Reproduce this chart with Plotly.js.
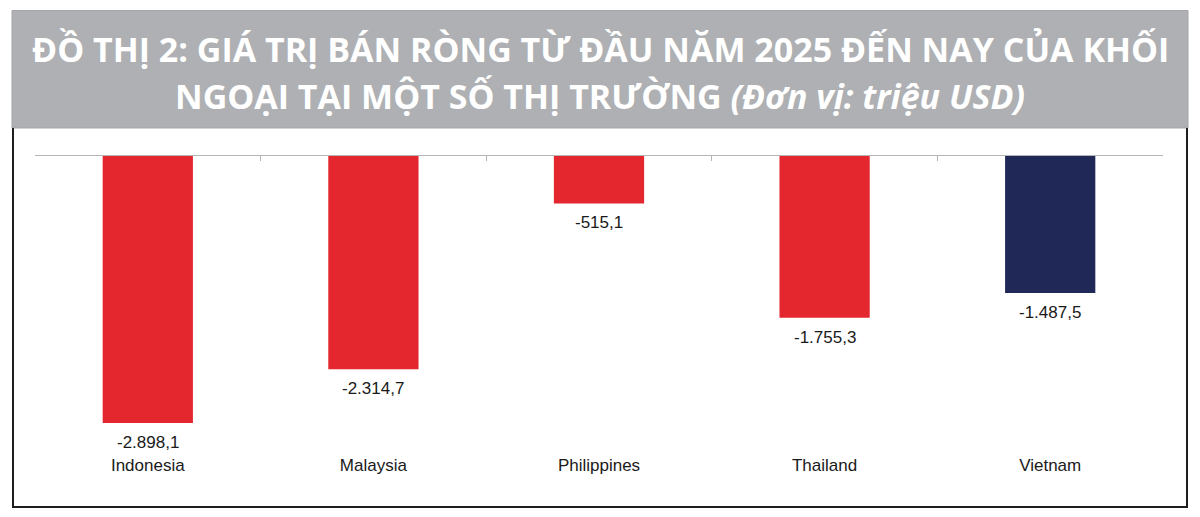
<!DOCTYPE html>
<html>
<head>
<meta charset="utf-8">
<script src="https://cdn.plot.ly/plotly-3.0.1.min.js"></script>
<style>
html,body{margin:0;padding:0;background:#fff;}
#chart{width:1200px;height:517px;}
</style>
</head>
<body>
<div id="chart"></div>
<script>
// ---- data ----
const categories = ["Indonesia", "Malaysia", "Philippines", "Thailand", "Vietnam"];
const values = [-2898.1, -2314.7, -515.1, -1755.3, -1487.5];
const barColors = ["#e4262f", "#e4262f", "#e4262f", "#e4262f", "#1f2857"];
const titleLine1 = "ĐỒ THỊ 2: GIÁ TRỊ BÁN RÒNG TỪ ĐẦU NĂM 2025 ĐẾN NAY CỦA KHỐI";
const titleLine2 = "NGOẠI TẠI MỘT SỐ THỊ TRƯỜNG";
const titleUnit = "(Đơn vị: triệu USD)";

function fmtVN(v) {
  const parts = Math.abs(v).toFixed(1).split(".");
  const intPart = parts[0].replace(/\B(?=(\d{3})+(?!\d))/g, ".");
  return (v < 0 ? "-" : "") + intPart + "," + parts[1];
}

// ---- layout geometry (pixels) ----
const W = 1200, H = 517;
const M = {l: 35, r: 37, t: 156, b: 64};
const pw = W - M.l - M.r, ph = H - M.t - M.b;
const px = x => (x - M.l) / pw;
const py = y => (H - M.b - y) / ph;

const bars = {
  type: "bar", x: categories, y: values,
  marker: {color: barColors, line: {width: 0}},
  width: 0.4, hoverinfo: "skip", xaxis: "x", yaxis: "y"
};
const axisHelper = {
  type: "scatter", mode: "markers", x: categories, y: values,
  marker: {opacity: 0}, hoverinfo: "skip", showlegend: false,
  xaxis: "x2", yaxis: "y"
};

const annotations = categories.map((c, i) => ({
  x: c, y: values[i], xref: "x", yref: "y",
  text: fmtVN(values[i]), showarrow: false,
  yanchor: "top", yshift: -8,
  font: {family: "Arial, Liberation Sans, sans-serif", size: 17, color: "#1a1a1a"}
}));

const titleFont = {family: "Open Sans, sans-serif", size: 34, color: "#ffffff", weight: 700};
annotations.push({
  xref: "paper", yref: "paper", x: px(600), y: py(49), xanchor: "center", yanchor: "middle",
  text: titleLine1, showarrow: false, font: titleFont
});
annotations.push({
  xref: "paper", yref: "paper", x: px(600), y: py(95.5), xanchor: "center", yanchor: "middle",
  text: titleLine2 + " <i>" + titleUnit + "</i>", showarrow: false, font: titleFont
});

const layout = {
  width: W, height: H,
  margin: M,
  paper_bgcolor: "#ffffff", plot_bgcolor: "rgba(0,0,0,0)",
  showlegend: false,
  xaxis: {
    type: "category", showline: false, showgrid: false, zeroline: false,
    ticks: "", tickfont: {family: "Arial, Liberation Sans, sans-serif", size: 17, color: "#1a1a1a"},
    range: [-0.5, 4.5]
  },
  xaxis2: {
    type: "category", overlaying: "x", side: "top", anchor: "y",
    showline: true, linecolor: "#b5b5b5", linewidth: 1,
    ticks: "inside", ticklen: 5, tickcolor: "#b5b5b5", tickwidth: 1,
    tickson: "boundaries", showticklabels: false, showgrid: false,
    range: [-0.5, 4.5]
  },
  yaxis: {
    range: [-3224, 0], visible: false, showgrid: false, zeroline: false
  },
  shapes: [
    {type: "rect", xref: "paper", yref: "paper", layer: "below",
     x0: px(12), x1: px(1188), y0: py(128), y1: py(10.5),
     fillcolor: "#aeb0b3", line: {color: "#a3a5a8", width: 1}},
    {type: "path", xref: "paper", yref: "paper", layer: "above",
     path: "M " + px(13) + "," + py(128) + " L " + px(13) + "," + py(507) +
           " L " + px(1187) + "," + py(507) + " L " + px(1187) + "," + py(128),
     line: {color: "#1e1e1e", width: 2}}
  ],
  annotations: annotations
};

Plotly.newPlot("chart", [bars, axisHelper], layout, {displayModeBar: false, staticPlot: true});
</script>
</body>
</html>
